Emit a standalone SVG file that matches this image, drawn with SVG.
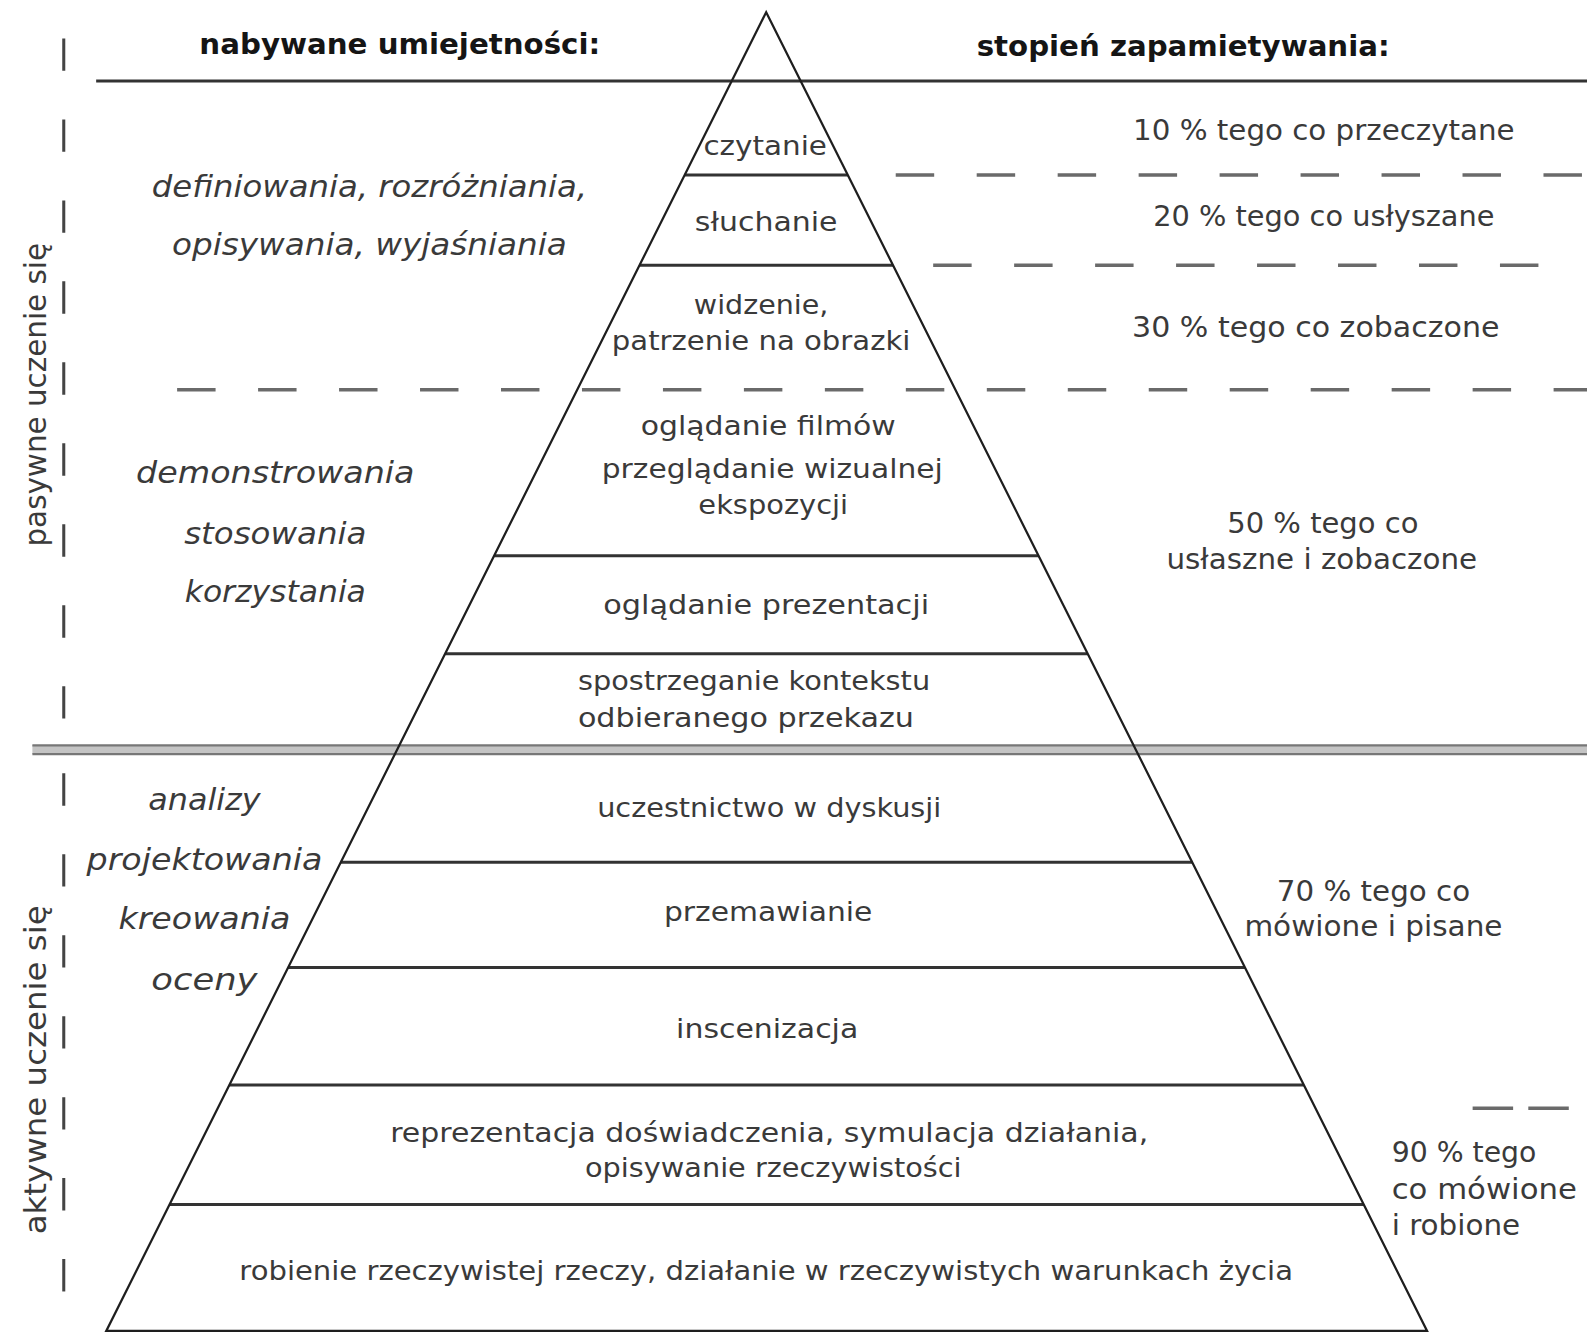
<svg xmlns="http://www.w3.org/2000/svg" width="1587" height="1334" viewBox="0 0 1587 1334">
<style>
.t{font-family:"DejaVu Sans","Liberation Sans",sans-serif;font-size:27px;fill:#3a3a3a;text-anchor:middle}
.r{font-family:"DejaVu Sans","Liberation Sans",sans-serif;font-size:28px;fill:#3a3a3a}
.i{font-family:"DejaVu Sans","Liberation Sans",sans-serif;font-size:29px;font-style:italic;fill:#3a3a3a;text-anchor:middle}
.h{font-family:"DejaVu Sans","Liberation Sans",sans-serif;font-size:28px;font-weight:bold;fill:#151515;text-anchor:middle}
.v{font-family:"DejaVu Sans","Liberation Sans",sans-serif;font-size:29px;fill:#3a3a3a;text-anchor:middle}
.tier{stroke:#333;stroke-width:3;fill:none}
.edge{stroke:#1e1e1e;stroke-width:2.2;fill:none;stroke-linejoin:miter}
.dash{stroke:#6a6a6a;stroke-width:3.5;fill:none;stroke-dasharray:38 42}
.vdash{stroke:#444;stroke-width:3;fill:none;stroke-dasharray:32 48}
</style>
<rect width="1587" height="1334" fill="#ffffff"/>
<g transform="scale(1.01212)">
<g id="connectors">
  <line class="tier" x1="95" y1="80" x2="1568" y2="80"/>
  <line class="dash" x1="885" y1="173" x2="1568" y2="173"/>
  <line class="dash" x1="922" y1="262" x2="1540" y2="262"/>
  <line class="dash" x1="175" y1="385" x2="1568" y2="385"/>
  <line class="dash" x1="1455" y1="1095" x2="1550" y2="1095" style="stroke-dasharray:40 15"/>
  <rect x="32" y="736" width="1536" height="9" fill="#c4c4c4"/>
  <line x1="32" y1="736.5" x2="1568" y2="736.5" stroke="#777" stroke-width="2.2"/>
  <line x1="32" y1="745" x2="1568" y2="745" stroke="#777" stroke-width="2.2"/>
  <line class="vdash" x1="63" y1="38" x2="63" y2="720"/>
  <line class="vdash" x1="63" y1="764" x2="63" y2="1318"/>
  <line class="tier" x1="676.4" y1="173" x2="837.7" y2="173"/>
  <line class="tier" x1="631.9" y1="262" x2="882.3" y2="262"/>
  <line class="tier" x1="488.3" y1="549" x2="1026.1" y2="549"/>
  <line class="tier" x1="439.8" y1="646" x2="1074.7" y2="646"/>
  <line class="tier" x1="336.7" y1="852" x2="1178" y2="852"/>
  <line class="tier" x1="284.6" y1="956" x2="1230.1" y2="956"/>
  <line class="tier" x1="226.6" y1="1072" x2="1288.2" y2="1072"/>
  <line class="tier" x1="167.6" y1="1190" x2="1347.4" y2="1190"/>
  <polygon class="edge" points="757,12 105,1315 1410,1315"/>
</g>
<g id="headers">
  <text class="h" x="395" y="53" textLength="396" lengthAdjust="spacingAndGlyphs">nabywane umiejetności:</text>
  <text class="h" x="1169" y="55" textLength="408" lengthAdjust="spacingAndGlyphs">stopień zapamietywania:</text>
</g>
<g id="side-labels">
  <text class="v" transform="translate(45,390) rotate(-90)" textLength="300" lengthAdjust="spacingAndGlyphs">pasywne uczenie się</text>
  <text class="v" transform="translate(45,1057) rotate(-90)" textLength="325" lengthAdjust="spacingAndGlyphs">aktywne uczenie się</text>
</g>
<g id="tier-czytanie">
  <text class="t" x="756" y="153" textLength="122" lengthAdjust="spacingAndGlyphs">czytanie</text>
</g>
<g id="tier-sluchanie">
  <text class="t" x="757" y="228" textLength="141" lengthAdjust="spacingAndGlyphs">słuchanie</text>
</g>
<g id="tier-widzenie">
  <text class="t" x="752" y="310" textLength="133" lengthAdjust="spacingAndGlyphs">widzenie,</text>
  <text class="t" x="752" y="346" textLength="295" lengthAdjust="spacingAndGlyphs">patrzenie na obrazki</text>
</g>
<g id="tier-filmy">
  <text class="t" x="759" y="430" textLength="252" lengthAdjust="spacingAndGlyphs">oglądanie filmów</text>
  <text class="t" x="763" y="472" textLength="337" lengthAdjust="spacingAndGlyphs">przeglądanie wizualnej</text>
  <text class="t" x="764" y="508" textLength="148" lengthAdjust="spacingAndGlyphs">ekspozycji</text>
</g>
<g id="tier-prezentacje">
  <text class="t" x="757" y="607" textLength="322" lengthAdjust="spacingAndGlyphs">oglądanie prezentacji</text>
</g>
<g id="tier-kontekst">
  <text class="t" x="745" y="682" textLength="348" lengthAdjust="spacingAndGlyphs">spostrzeganie kontekstu</text>
  <text class="t" x="737" y="718" textLength="332" lengthAdjust="spacingAndGlyphs">odbieranego przekazu</text>
</g>
<g id="tier-dyskusja">
  <text class="t" x="760" y="807" textLength="340" lengthAdjust="spacingAndGlyphs">uczestnictwo w dyskusji</text>
</g>
<g id="tier-przemawianie">
  <text class="t" x="759" y="910" textLength="206" lengthAdjust="spacingAndGlyphs">przemawianie</text>
</g>
<g id="tier-inscenizacja">
  <text class="t" x="758" y="1026" textLength="180" lengthAdjust="spacingAndGlyphs">inscenizacja</text>
</g>
<g id="tier-reprezentacja">
  <text class="t" x="760" y="1128" textLength="749" lengthAdjust="spacingAndGlyphs">reprezentacja doświadczenia, symulacja działania,</text>
  <text class="t" x="764" y="1163" textLength="372" lengthAdjust="spacingAndGlyphs">opisywanie rzeczywistości</text>
</g>
<g id="tier-robienie">
  <text class="t" x="757" y="1265" textLength="1041" lengthAdjust="spacingAndGlyphs">robienie rzeczywistej rzeczy, działanie w rzeczywistych warunkach życia</text>
</g>
<g id="skills-passive-1">
  <text class="i" x="365" y="195" textLength="430" lengthAdjust="spacingAndGlyphs">definiowania, rozróżniania,</text>
  <text class="i" x="365" y="252" textLength="390" lengthAdjust="spacingAndGlyphs">opisywania, wyjaśniania</text>
</g>
<g id="skills-passive-2">
  <text class="i" x="272" y="477" textLength="275" lengthAdjust="spacingAndGlyphs">demonstrowania</text>
  <text class="i" x="272" y="537" textLength="180" lengthAdjust="spacingAndGlyphs">stosowania</text>
  <text class="i" x="272" y="595" textLength="179" lengthAdjust="spacingAndGlyphs">korzystania</text>
</g>
<g id="skills-active">
  <text class="i" x="202" y="800" textLength="111" lengthAdjust="spacingAndGlyphs">analizy</text>
  <text class="i" x="202" y="860" textLength="233" lengthAdjust="spacingAndGlyphs">projektowania</text>
  <text class="i" x="202" y="918" textLength="170" lengthAdjust="spacingAndGlyphs">kreowania</text>
  <text class="i" x="202" y="978" textLength="105" lengthAdjust="spacingAndGlyphs">oceny</text>
</g>
<g id="retention-10">
  <text class="r" x="1308" y="138" text-anchor="middle" textLength="377" lengthAdjust="spacingAndGlyphs">10 % tego co przeczytane</text>
</g>
<g id="retention-20">
  <text class="r" x="1308" y="223" text-anchor="middle" textLength="337" lengthAdjust="spacingAndGlyphs">20 % tego co usłyszane</text>
</g>
<g id="retention-30">
  <text class="r" x="1300" y="333" text-anchor="middle" textLength="363" lengthAdjust="spacingAndGlyphs">30 % tego co zobaczone</text>
</g>
<g id="retention-50">
  <text class="r" x="1307" y="527" text-anchor="middle" textLength="189" lengthAdjust="spacingAndGlyphs">50 % tego co</text>
  <text class="r" x="1306" y="562" text-anchor="middle" textLength="307" lengthAdjust="spacingAndGlyphs">usłaszne i zobaczone</text>
</g>
<g id="retention-70">
  <text class="r" x="1357" y="890" text-anchor="middle" textLength="191" lengthAdjust="spacingAndGlyphs">70 % tego co</text>
  <text class="r" x="1357" y="925" text-anchor="middle" textLength="255" lengthAdjust="spacingAndGlyphs">mówione i pisane</text>
</g>
<g id="retention-90">
  <text class="r" x="1375" y="1148" textLength="143" lengthAdjust="spacingAndGlyphs">90 % tego</text>
  <text class="r" x="1375" y="1185" textLength="183" lengthAdjust="spacingAndGlyphs">co mówione</text>
  <text class="r" x="1375" y="1220" textLength="127" lengthAdjust="spacingAndGlyphs">i robione</text>
</g>
</g>
</svg>
